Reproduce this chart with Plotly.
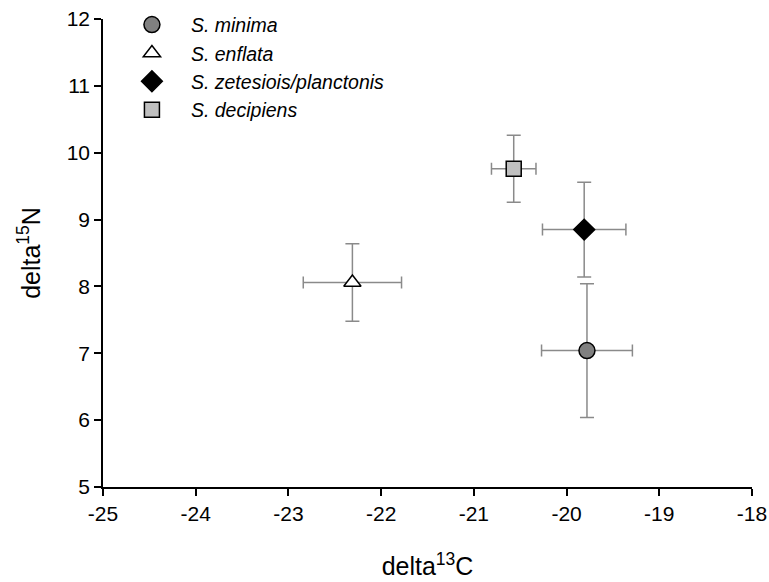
import plotly.graph_objects as go

species = ["S. minima", "S. enflata", "S. zetesiois/planctonis", "S. decipiens"]
d13c = [-19.78, -22.31, -19.81, -20.57]
d13c_err = [0.49, 0.53, 0.45, 0.24]
d15n = [7.04, 8.06, 8.85, 9.76]
d15n_err = [1.0, 0.58, 0.71, 0.50]
symbols = ["circle", "triangle-up", "diamond", "square"]
fills = ["#808080", "#ffffff", "#000000", "#c0c0c0"]
sizes = [16, 15, 16, 15]

x_ticks = [-25, -24, -23, -22, -21, -20, -19, -18]
y_ticks = [5, 6, 7, 8, 9, 10, 11, 12]

fig = go.Figure()
for i, name in enumerate(species):
    fig.add_trace(go.Scatter(
        x=[d13c[i]], y=[d15n[i]], mode="markers", name=name,
        marker=dict(symbol=symbols[i], color=fills[i], size=sizes[i],
                    line=dict(color="black", width=1.5)),
        error_x=dict(type="data", array=[d13c_err[i]], color="#8a8a8a", thickness=1.5, width=6),
        error_y=dict(type="data", array=[d15n_err[i]], color="#8a8a8a", thickness=1.5, width=7),
    ))

fig.update_layout(
    width=769, height=582,
    margin=dict(l=103, r=17, t=19, b=95, autoexpand=False),
    paper_bgcolor="white", plot_bgcolor="white",
    font=dict(family="Liberation Sans, Arial, sans-serif", color="black", size=21),
    showlegend=True,
    legend=dict(x=0.0153, y=1.029, xanchor="left", yanchor="top",
                font=dict(size=19.5, style="italic"), bgcolor="rgba(0,0,0,0)",
                traceorder="normal", itemwidth=68),
    xaxis=dict(range=[-25, -18], tickvals=x_ticks, ticktext=[str(v) for v in x_ticks],
               showline=True, linecolor="black", linewidth=1.5, mirror=False,
               ticks="outside", ticklen=7, tickwidth=1.5, tickcolor="black",
               showgrid=False, zeroline=False, automargin=False,
               title=dict(text="delta<sup>13</sup>C", font=dict(size=25), standoff=34)),
    yaxis=dict(range=[5, 12], tickvals=y_ticks, ticktext=[str(v) for v in y_ticks],
               showline=True, linecolor="black", linewidth=1.5, mirror=False,
               ticks="outside", ticklen=7, tickwidth=1.5, tickcolor="black",
               showgrid=False, zeroline=False, automargin=False,
               title=dict(text="delta<sup>15</sup>N", font=dict(size=25), standoff=19)),
)

fig.write_html("out.html")
